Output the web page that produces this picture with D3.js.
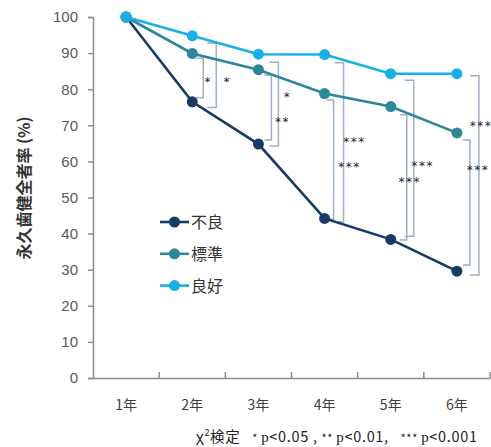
<!DOCTYPE html>
<html>
<head>
<meta charset="utf-8">
<script src="https://cdn.jsdelivr.net/npm/d3@7"></script>
<style>
  body { margin: 0; background: #fff; }
  svg text { font-family: "Noto Sans CJK JP", "Noto Sans", sans-serif; }
</style>
</head>
<body>
<div id="chart"></div>
<script>
// dados do gráfico
var years = ["1年", "2年", "3年", "4年", "5年", "6年"];
var seriesNames = ["不良", "標準", "良好"];
var furyo   = [100, 76.5, 64.8, 44.2, 38.4, 29.6];
var hyojun  = [100, 89.9, 85.4, 78.8, 75.2, 67.9];
var ryoko   = [100, 94.8, 89.7, 89.6, 84.3, 84.3];
var yTicks = [0, 10, 20, 30, 40, 50, 60, 70, 80, 90, 100];

// significância (anos 2..6): colchete interno = 標準 vs 不良, externo = 良好 vs 不良
var sigInner = ["*", "**", "***", "***", "***"];
var sigOuter = ["*", "*", "***", "***", "***"];
var spanInner = [[88.6, 77.6], [83.9, 65.9], [77.0, 44.0], [72.9, 38.2], [65.9, 31.3]];
var spanOuter = [[92.8, 74.9], [87.5, 64.3], [87.3, 43.2], [82.5, 39.3], [83.7, 28.5]];
var labelInnerAt = [83.2, 72.0, 59.6, 55.4, 58.7];
var labelOuterAt = [83.2, 79.0, 66.5, 59.8, 70.9];

var colors = ["#173a66", "#2c8799", "#17b0e8"];

// layout dos colchetes (deslocamento em px a partir do centro da categoria)
var brInnerDx = [11, 13, 9, 16, 13];
var brOuterDx = [24, 20, 19, 23, 22];
var lbInnerDx = [16, 24, 25, 19, 21];
var lbOuterDx = [35, 29, 30, 32, 24];

var W = 491, H = 447;
var svg = d3.select("#chart").append("svg")
    .attr("width", W).attr("height", H);

var x = d3.scaleBand().domain(years).range([93, 490]).padding(0);
var y = d3.scaleLinear().domain([0, 100]).range([378, 17]);
var cx = d => x(d) + x.bandwidth() / 2;

/*
 * Eixos
 */
var axisColor = "#8c8c8c";
var yAxis = svg.append("g")
    .attr("transform", "translate(93,0)")
    .call(d3.axisLeft(y).tickValues(yTicks).tickSize(5).tickPadding(10));
yAxis.select(".domain").attr("stroke", axisColor).attr("stroke-width", 1.5);
yAxis.selectAll(".tick line").attr("stroke", axisColor).attr("stroke-width", 1.5);
yAxis.selectAll(".tick text").attr("fill", "#595959").style("font-size", "15px")
    .style("font-family", "Liberation Sans, Arial, sans-serif");

var xAxis = svg.append("g")
    .attr("transform", "translate(0,378)")
    .call(d3.axisBottom(x).tickSize(0).tickPadding(22));
xAxis.select(".domain").attr("stroke", axisColor).attr("stroke-width", 1.5);
xAxis.selectAll(".tick text").attr("fill", "#404040").style("font-size", "14px");

// marcas entre as categorias
svg.append("g").selectAll("line")
    .data(years.slice(1).concat(["end"]))
    .enter().append("line")
    .attr("x1", d => d == "end" ? x.range()[1] : x(d))
    .attr("x2", d => d == "end" ? x.range()[1] : x(d))
    .attr("y1", 378).attr("y2", 372)
    .attr("stroke", axisColor).attr("stroke-width", 1.5);

svg.append("text")
    .attr("transform", "translate(30,188) rotate(-90)")
    .attr("text-anchor", "middle")
    .style("font-size", "16px").style("font-weight", "bold")
    .attr("fill", "#333")
    .text("永久歯健全者率 (%)");

/*
 * Colchetes de significância
 */
var bracketColor = "#9fb0c8";
var brk = svg.append("g");
function bracket(list, dxs, arm) {
  brk.selectAll(null)
    .data(list)
    .enter().append("path")
    .attr("d", (d, i) => {
      var bx = cx(years[i + 1]) + dxs[i];
      return "M" + (bx - arm) + "," + y(d[0]) + "H" + bx + "V" + y(d[1]) + "H" + (bx - arm);
    })
    .attr("fill", "none")
    .attr("stroke", bracketColor)
    .attr("stroke-width", 1.5);
}
bracket(spanInner, brInnerDx, 7);
bracket(spanOuter, brOuterDx, 9);

function sigText(list, at, dxs) {
  svg.append("g").selectAll("text")
    .data(list)
    .enter().append("text")
    .attr("x", (d, i) => cx(years[i + 1]) + dxs[i])
    .attr("y", (d, i) => y(at[i]) + 8)
    .attr("text-anchor", "middle")
    .attr("fill", "#222")
    .style("font-size", "12px")
    .style("letter-spacing", "1.5px")
    .style("font-family", "DejaVu Sans, sans-serif")
    .text(d => d);
}
sigText(sigInner, labelInnerAt, lbInnerDx);
sigText(sigOuter, labelOuterAt, lbOuterDx);

/*
 * Linhas e pontos
 */
var allSeries = [furyo, hyojun, ryoko];
var line = d3.line().x((d, i) => cx(years[i])).y(d => y(d));

allSeries.forEach(function (s, k) {
  var g = svg.append("g");
  g.append("path")
    .attr("d", line(s))
    .attr("fill", "none")
    .attr("stroke", colors[k])
    .attr("stroke-width", 2.6);
  g.selectAll("circle")
    .data(s)
    .enter().append("circle")
    .attr("cx", (d, i) => cx(years[i]))
    .attr("cy", d => y(d))
    .attr("r", 5.5)
    .attr("fill", colors[k]);
});

/*
 * Legenda
 */
var leg = svg.append("g").selectAll("g")
    .data(seriesNames)
    .enter().append("g")
    .attr("transform", (d, i) => "translate(160," + (222 + i * 31.8) + ")");
leg.append("line")
    .attr("x1", 0).attr("x2", 29)
    .attr("stroke", (d, i) => colors[i]).attr("stroke-width", 2.6);
leg.append("circle")
    .attr("cx", 14.5).attr("r", 5.5)
    .attr("fill", (d, i) => colors[i]);
leg.append("text")
    .attr("x", 31).attr("y", 6)
    .attr("fill", "#333")
    .style("font-size", "16px")
    .text(d => d);

/*
 * Nota
 */
var note = svg.append("text")
    .attr("x", 196).attr("y", 442)
    .attr("fill", "#222")
    .attr("textLength", 281)
    .attr("lengthAdjust", "spacing")
    .style("white-space", "pre")
    .style("font-size", "14.5px");
note.append("tspan").text("χ");
note.append("tspan").attr("dy", -6).style("font-size", "9px").text("2");
note.append("tspan").attr("dy", 6).text("検定   ");
note.append("tspan").style("font-size", "11px").text("* ");
note.append("tspan").style("font-family", "Liberation Serif, serif").style("font-size", "15px").text("p");
note.append("tspan").text("<0.05 , ");
note.append("tspan").style("font-size", "11px").text("** ");
note.append("tspan").style("font-family", "Liberation Serif, serif").style("font-size", "15px").text("p");
note.append("tspan").text("<0.01,   ");
note.append("tspan").style("font-size", "11px").text("*** ");
note.append("tspan").style("font-family", "Liberation Serif, serif").style("font-size", "15px").text("p");
note.append("tspan").text("<0.001");
</script>
</body>
</html>
